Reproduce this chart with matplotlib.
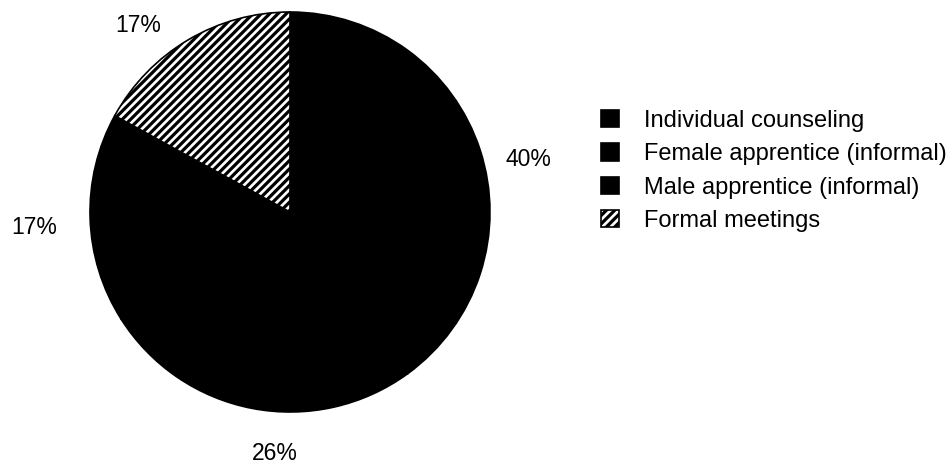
import matplotlib
matplotlib.use("Agg")
import matplotlib.pyplot as plt

categories = ["Individual counseling", "Female apprentice (informal)",
              "Male apprentice (informal)", "Formal meetings"]
values = [40, 26, 17, 17]
pct_labels = ["40%", "26%", "17%", "17%"]

plt.rcParams['font.family'] = ['Liberation Sans', 'DejaVu Sans']
plt.rcParams['hatch.linewidth'] = 2.3

W, H = 949, 463
fig = plt.figure(figsize=(W / 100, H / 100), dpi=100)
ax = fig.add_axes([0, 0, 1, 1])

cx, cy, r = 290, H - 212, 200
face = ['black', 'black', 'black', 'white']
hatches = [None, None, None, '////']
wedges, _ = ax.pie(values, startangle=90, counterclock=False,
                   center=(cx, cy), radius=r,
                   colors=face, frame=True,
                   wedgeprops=dict(edgecolor='black', linewidth=1.2))
for w, h in zip(wedges, hatches):
    if h:
        w.set_hatch(h)
ax.set_xlim(0, W)
ax.set_ylim(0, H)
ax.set_aspect('equal')
ax.axis('off')

# percentage label positions (pixel layout)
label_pos = [(528, 160), (275, 453), (34, 228), (138, 25)]
for (x, y), t in zip(label_pos, pct_labels):
    ax.text(x, H - y, t, ha='center', va='center', fontsize=16.5)

leg = ax.legend(wedges, categories, loc='upper left',
                bbox_to_anchor=(601 / W, 1 - 110 / H),
                bbox_transform=fig.transFigure,
                frameon=False, fontsize=17,
                handlelength=0.76, handleheight=0.76,
                handletextpad=1.06, labelspacing=0.48,
                borderpad=0, borderaxespad=0)

fig.savefig("out.png", dpi=100, facecolor='white')
